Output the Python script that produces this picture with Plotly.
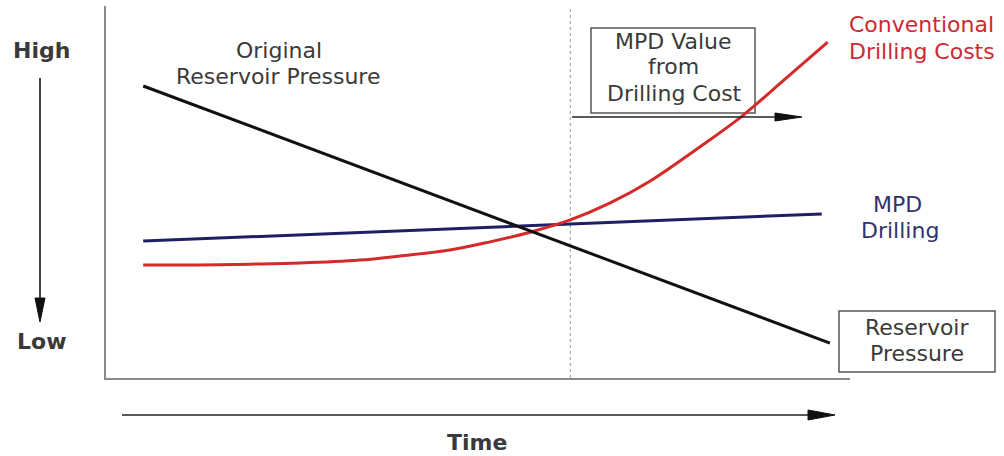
import plotly.graph_objects as go

# --- data: relative levels (0 = low, 100 = high) against time (0..100) ---
time_reservoir = [5.0, 97.3]
reservoir_pressure = [78.5, 9.4]

time_mpd = [5.0, 96.2]
mpd_cost = [36.8, 44.1]

time_conventional = [5.0, 12.6, 19.4, 26.1, 34.1, 39.5, 46.2, 51.6, 57.0,
                     62.4, 67.7, 73.1, 79.8, 85.5, 91.3, 97.0]
conventional_cost = [30.4, 30.4, 30.6, 30.9, 31.7, 32.8, 34.4, 36.6, 39.2,
                     42.5, 47.0, 52.9, 62.1, 70.4, 80.4, 90.3]

pressure_limit_time = 62.4  # point where conventional cost overtakes MPD

# --- figure geometry (pixels) ---
FIG_W, FIG_H = 1004, 456
PLOT_L, PLOT_R, PLOT_T, PLOT_B = 106, 850, 6, 378


def fx(px):
    return (px - PLOT_L) / (PLOT_R - PLOT_L)


def fy(py):
    return (PLOT_B - py) / (PLOT_B - PLOT_T)


TEXT = "#3a3a3a"
FONT = "DejaVu Sans"

fig = go.Figure()
fig.add_trace(go.Scatter(x=time_mpd, y=mpd_cost, mode="lines",
                         line=dict(color="#1f1f66", width=3),
                         hoverinfo="skip"))
fig.add_trace(go.Scatter(x=time_conventional, y=conventional_cost, mode="lines",
                         line=dict(color="#d42a2a", width=3, shape="spline",
                                   smoothing=1.0),
                         hoverinfo="skip"))
fig.add_trace(go.Scatter(x=time_reservoir, y=reservoir_pressure, mode="lines",
                         line=dict(color="#111111", width=3),
                         hoverinfo="skip"))

shapes = []
# dotted marker at the crossover time
shapes.append(dict(type="line", xref="x", yref="paper",
                   x0=pressure_limit_time, x1=pressure_limit_time, y0=0, y1=1,
                   line=dict(color="#9a9a9a", width=1, dash="dot"),
                   layer="below"))


def line_px(x0, y0, x1, y1, color="#222222", width=1.5):
    return dict(type="line", xref="paper", yref="paper",
                x0=fx(x0), y0=fy(y0), x1=fx(x1), y1=fy(y1),
                line=dict(color=color, width=width))


def head_px(pts, color="#111111"):
    path = "M " + " L ".join(f"{fx(a):.5f},{fy(b):.5f}" for a, b in pts) + " Z"
    return dict(type="path", xref="paper", yref="paper", path=path,
                fillcolor=color, line=dict(color=color, width=1))


def box_px(x0, y0, x1, y1):
    return dict(type="rect", xref="paper", yref="paper",
                x0=fx(x0), y0=fy(y0), x1=fx(x1), y1=fy(y1),
                line=dict(color="#555555", width=1.5), layer="below")


# time arrow under the axis
shapes.append(line_px(122, 415, 812, 415))
shapes.append(head_px([(835, 415), (808, 410), (808, 420)]))
# high -> low arrow
shapes.append(line_px(40, 78, 40, 302, color="#444444", width=2))
shapes.append(head_px([(40, 322), (35, 298), (45, 298)]))
# MPD value arrow
shapes.append(line_px(572, 117, 780, 117))
shapes.append(head_px([(802, 117), (775, 113), (775, 121)]))
# label boxes
shapes.append(box_px(591, 28, 755, 113))
shapes.append(box_px(839, 311, 995, 372))

annotations = []


def label(text, px, py, size=22, color=TEXT, bold=False):
    annotations.append(dict(
        text=f"<b>{text}</b>" if bold else text,
        xref="paper", yref="paper", x=fx(px), y=fy(py),
        xanchor="center", yanchor="middle", showarrow=False,
        font=dict(family=FONT, size=size, color=color)))


label("High", 41, 50, bold=True)
label("Low", 41, 341, bold=True)
label("Time", 477, 442, bold=True)
label("Original", 279, 50)
label("Reservoir Pressure", 278, 76)
label("MPD Value", 673, 41)
label("from", 673, 67)
label("Drilling Cost", 674, 93)
label("Conventional", 922, 25, color="#cc2a33")
label("Drilling Costs", 922, 51, color="#cc2a33")
label("MPD", 897, 204, color="#33336b")
label("Drilling", 900, 230, color="#33336b")
label("Reservoir", 917, 327)
label("Pressure", 917, 353)

axis_style = dict(showline=True, linecolor="#8a8a8a", linewidth=2,
                  showgrid=False, zeroline=False, ticks="",
                  showticklabels=False, fixedrange=True)

fig.update_layout(
    width=FIG_W, height=FIG_H,
    margin=dict(l=PLOT_L, r=FIG_W - PLOT_R, t=PLOT_T, b=FIG_H - PLOT_B),
    paper_bgcolor="white", plot_bgcolor="white",
    showlegend=False,
    xaxis=dict(range=[0, 100], **axis_style),
    yaxis=dict(range=[0, 100], **axis_style),
    shapes=shapes, annotations=annotations,
)

fig.write_html("out.html", config={"displayModeBar": False})
